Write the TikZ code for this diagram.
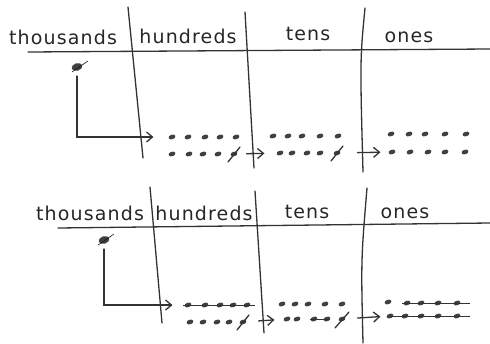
\documentclass[tikz,border=0pt]{standalone}
\usepackage{fontspec}
\newfontfamily\handfont[LetterSpace=6]{DejaVu Sans}
\usetikzlibrary{arrows.meta, shapes.geometric}

\begin{document}
\begin{tikzpicture}[
        x=1pt, y=-1pt,
        ink/.style={draw=black!80, line width=1.3pt, line cap=round},
        head/.style={font=\handfont\fontsize{19}{21}\selectfont, text=black!85, anchor=base, inner sep=0pt},
        dot/.style={ellipse, fill=black!75, inner sep=0pt, minimum width=7pt, minimum height=4.6pt, rotate=18},
        bigdot/.style={dot, minimum width=11pt, minimum height=7.5pt},
        arr/.style={ink, -{Straight Barb[length=6pt, width=10pt]}},
        strike/.style={draw=black!80, line width=0.9pt}
    ]
    \useasboundingbox (0,0) rectangle (490,343);

    % top chart
    \node[head] (aThou) at (63,44)  {thousands};
    \node[head] (aHund) at (188,43) {hundreds};
    \node[head] (aTens) at (308,40) {tens};
    \node[head] (aOnes) at (409,42) {ones};
    \draw[ink] (28,52) -- (490,49);
    \draw[ink] (128,7) -- (143,158);
    \draw[ink] (245,12) -- (254,168);
    \draw[ink] (365,8) .. controls (360,60) .. (363,172);

    \node[bigdot] (aK) at (77,67) {};
    \draw[draw=black!90, line width=0.6pt] ([shift={(-5,5)}]aK.center) -- ([shift={(11,-6)}]aK.center);

    \node[dot] (aH1) at (172,137) {}; \node[dot] (aH2) at (188,137) {}; \node[dot] (aH3) at (205,137) {};
    \node[dot] (aH4) at (220,137) {}; \node[dot] (aH5) at (236,137) {};
    \node[dot] (aH6) at (172,154) {}; \node[dot] (aH7) at (189,154) {}; \node[dot] (aH8) at (203,154) {};
    \node[dot] (aH9) at (218,154) {}; \node[dot] (aH10) at (234,154) {};
    \draw[ink] ([shift={(-6,8)}]aH10.center) -- ([shift={(6,-7)}]aH10.center);

    \node[dot] (aT1) at (273,136) {}; \node[dot] (aT2) at (288,136) {}; \node[dot] (aT3) at (302,136) {};
    \node[dot] (aT4) at (320,136) {}; \node[dot] (aT5) at (338,136) {};
    \node[dot] (aT6) at (280,153) {}; \node[dot] (aT7) at (292,153) {}; \node[dot] (aT8) at (307,153) {};
    \node[dot] (aT9) at (320,153) {}; \node[dot] (aT10) at (337,153) {};
    \draw[ink] ([shift={(-6,8)}]aT10.center) -- ([shift={(6,-7)}]aT10.center);

    \node[dot] (aO1) at (391,134) {}; \node[dot] (aO2) at (409,134) {}; \node[dot] (aO3) at (425,134) {};
    \node[dot] (aO4) at (445,134) {}; \node[dot] (aO5) at (466,134) {};
    \node[dot] (aO6) at (392,152) {}; \node[dot] (aO7) at (410,152) {}; \node[dot] (aO8) at (428,152) {};
    \node[dot] (aO9) at (445,152) {}; \node[dot] (aO10) at (465,152) {};

    \draw[arr, shorten <=5pt, shorten >=15pt] (aK) |- (aH1);
    \draw[arr, shorten <=9pt, shorten >=12pt] (aH10) -- (aT6);
    \draw[arr, shorten <=17pt, shorten >=8pt] (aT10) -- (aO6);

    % bottom chart
    \node[head] (bThou) at (90,220)  {thousands};
    \node[head] (bHund) at (204,220) {hundreds};
    \node[head] (bTens) at (307,218) {tens};
    \node[head] (bOnes) at (405,218) {ones};
    \draw[ink] (58,228) -- (490,223);
    \draw[ink] (150,187) -- (162,323);
    \draw[ink] (255,191) -- (264,333);
    \draw[ink] (367,188) .. controls (361,260) .. (363,343);

    \node[bigdot] (bK) at (104,240) {};
    \draw[draw=black!90, line width=0.6pt] ([shift={(-6,5)}]bK.center) -- ([shift={(10,-6)}]bK.center);

    \node[dot] (bH1) at (188,305) {}; \node[dot] (bH2) at (205,305) {}; \node[dot] (bH3) at (220,305) {};
    \node[dot] (bH4) at (233,305) {}; \node[dot] (bH5) at (247,305) {};
    \node[dot] (bH6) at (190,322) {}; \node[dot] (bH7) at (203,322) {}; \node[dot] (bH8) at (217,322) {};
    \node[dot] (bH9) at (229,322) {}; \node[dot] (bH10) at (243,322) {};
    \draw[strike] ([xshift=-5pt]bH1.center) -- ([xshift=8pt]bH5.center);
    \draw[ink] ([shift={(-6,8)}]bH10.center) -- ([shift={(6,-7)}]bH10.center);

    \node[dot] (bT1) at (282,304) {}; \node[dot] (bT2) at (295,304) {}; \node[dot] (bT3) at (308,304) {};
    \node[dot] (bT4) at (325,304) {}; \node[dot] (bT5) at (342,304) {};
    \node[dot] (bT6) at (287,319) {}; \node[dot] (bT7) at (297,319) {}; \node[dot] (bT8) at (314,319) {};
    \node[dot] (bT9) at (327,319) {}; \node[dot] (bT10) at (342,319) {};
    \draw[strike] ([xshift=-4pt]bT8.center) -- ([xshift=3pt]bT9.center);
    \draw[ink] ([shift={(-7,9)}]bT10.center) -- ([shift={(7,-7)}]bT10.center);

    \node[dot] (bO1) at (388,302) {}; \node[dot] (bO2) at (407,303) {}; \node[dot] (bO3) at (421,303) {};
    \node[dot] (bO4) at (438,303) {}; \node[dot] (bO5) at (457,303) {};
    \node[dot] (bO6) at (390,316) {}; \node[dot] (bO7) at (405,316) {}; \node[dot] (bO8) at (421,316) {};
    \node[dot] (bO9) at (438,316) {}; \node[dot] (bO10) at (457,316) {};
    \draw[strike] ([xshift=-5pt]bO2.center) -- ([xshift=13pt]bO5.center);
    \draw[strike] (bO6.center) -- ([xshift=13pt]bO10.center);

    \draw[arr, shorten <=5pt, shorten >=12pt] (bK) |- (bH1);
    \draw[arr, shorten <=12pt, shorten >=9pt] (bH10) -- (bT6);
    \draw[arr, shorten <=12pt, shorten >=6pt] (bT10) -- (bO6);
\end{tikzpicture}
\end{document}
